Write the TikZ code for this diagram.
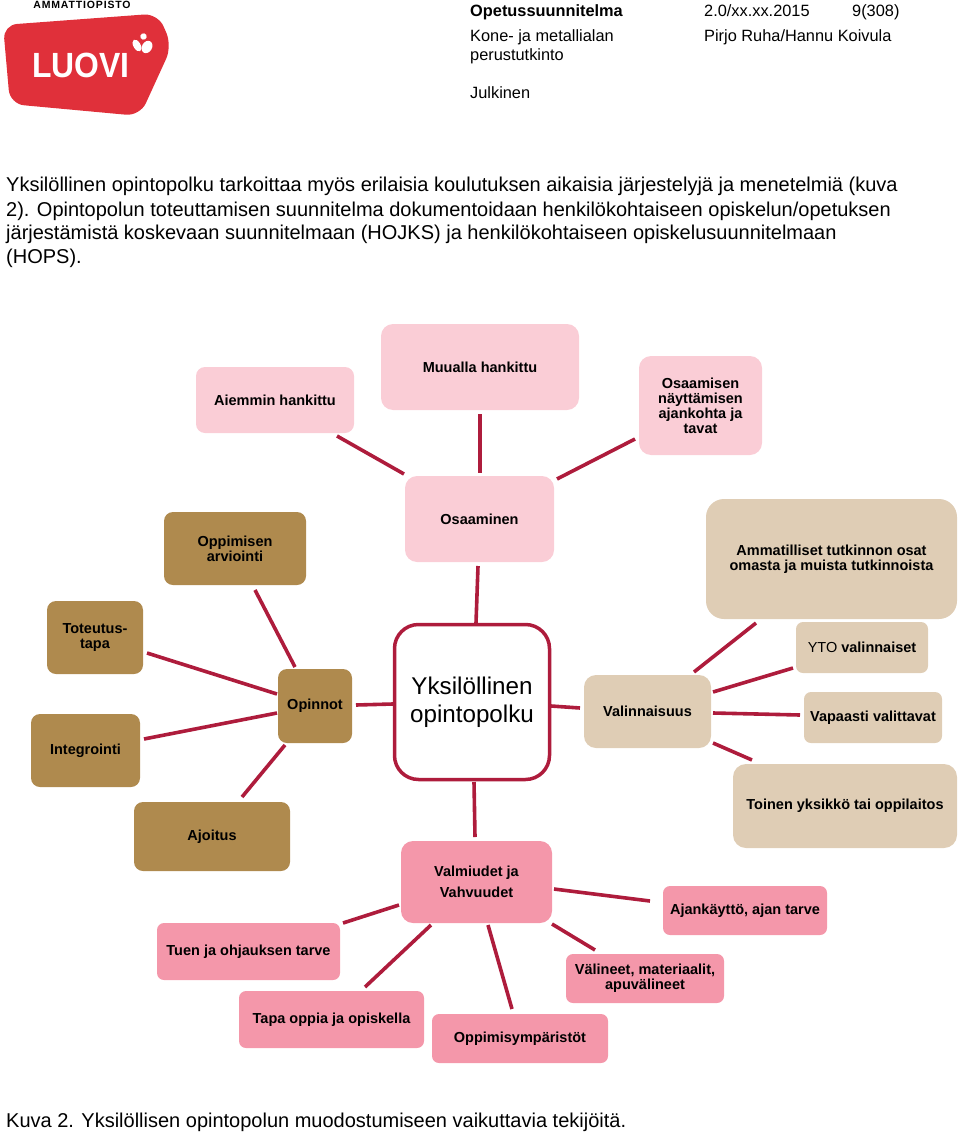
\documentclass[tikz,border=0pt]{standalone}
\usepackage{fontspec}
\setmainfont{Liberation Sans}
\definecolor{lpink}{HTML}{FACDD6}
\definecolor{brownb}{HTML}{AF8A4E}
\definecolor{tanb}{HTML}{DFCDB5}
\definecolor{dpink}{HTML}{F497AA}
\definecolor{crim}{HTML}{AE1C3C}
\definecolor{logored}{HTML}{E0303A}
\tikzset{
 nb/.style={rectangle,rounded corners=9pt,inner sep=0pt,align=center,text=black,
   font=\fontsize{14.5}{15}\selectfont\bfseries},
 lp/.style={nb,fill=lpink},
 br/.style={nb,fill=brownb},
 tn/.style={nb,fill=tanb},
 dp/.style={nb,fill=dpink},
 link/.style={draw=crim,line width=3.6pt},
 para/.style={anchor=base west,inner sep=0pt,font=\fontsize{20}{22}\selectfont},
 head/.style={anchor=base west,inner sep=0pt,font=\fontsize{16.35}{18}\selectfont},
}
\begin{document}
\begin{tikzpicture}[x=1pt,y=-1pt]
\useasboundingbox (0,0) rectangle (960,1134);
% logo
\fill[logored,rounded corners=14pt] (3,25) -- (158,13.5) -- (172,46) -- (140,116) -- (10,104) -- cycle;
\node[anchor=base,inner sep=0pt,font=\fontsize{10.5}{12}\selectfont\bfseries\addfontfeature{LetterSpace=8}] (ammatti) at (82,9) {AMMATTIOPISTO};
\node[anchor=base west,inner sep=0pt,text=white,font=\fontsize{35}{36}\selectfont\bfseries] (luovi) at (32,78) {\scalebox{.91}[1]{LUOVI}};
\fill[white,rotate around={30:(137,45.5)}] (137,45.5) ellipse (3.6pt and 6.5pt);
\fill[white,rotate around={-30:(147,47)}] (147,47) ellipse (5pt and 6.5pt);
\fill[white,rotate around={30:(143.5,36.5)}] (143.5,36.5) ellipse (3.2pt and 3.2pt);
% header
\node[head,font=\fontsize{16.35}{18}\selectfont\bfseries] (h1) at (470,17) {Opetussuunnitelma};
\node[head] (h2) at (704,17) {2.0/xx.xx.2015};
\node[head] (h3) at (852,17) {9(308)};
\node[head] (h4) at (470,42) {Kone- ja metallialan};
\node[head] (h5) at (704,42) {Pirjo Ruha/Hannu Koivula};
\node[head] (h6) at (470,61) {perustutkinto};
\node[head] (h7) at (470,99) {Julkinen};
% paragraph
\node[para] (p1) at (6,192) {Yksilöllinen opintopolku tarkoittaa myös erilaisia koulutuksen aikaisia järjestelyjä ja menetelmiä (kuva};
\node[para] (p2) at (6,216) {2). Opintopolun toteuttamisen suunnitelma dokumentoidaan henkilökohtaiseen opiskelun/opetuksen};
\node[para] (p3) at (6,239) {järjestämistä koskevaan suunnitelmaan (HOJKS) ja henkilökohtaiseen opiskelusuunnitelmaan};
\node[para] (p4) at (6,263) {(HOPS).};
\node[para] (cap) at (6,1127) {Kuva 2. Yksilöllisen opintopolun muodostumiseen vaikuttavia tekijöitä.};
% nodes
\node[lp,minimum width=158pt,minimum height=66pt] (aie) at (275,400) {Aiemmin hankittu};
\node[lp,minimum width=198pt,minimum height=86pt,rounded corners=12pt] (muu) at (480,367) {Muualla hankittu};
\node[lp,minimum width=123pt,minimum height=99pt,rounded corners=12pt] (nay) at (700.5,405.5) {Osaamisen\\näyttämisen\\ajankohta ja\\tavat};
\node[lp,minimum width=149pt,minimum height=86pt,rounded corners=12pt] (osa) at (479.5,519) {Osaaminen};
\node[br,minimum width=142pt,minimum height=73pt] (opa) at (235,548.5) {Oppimisen\\arviointi};
\node[tn,minimum width=251pt,minimum height=120pt,rounded corners=18pt] (amm) at (831.5,559) {Ammatilliset tutkinnon osat\\omasta ja muista tutkinnoista};
\node[br,minimum width=96pt,minimum height=73pt] (tot) at (95,637.5) {Toteutus-\\tapa};
\node[br,minimum width=109pt,minimum height=73pt] (int) at (85.5,750.5) {Integrointi};
\node[br,minimum width=74pt,minimum height=74pt] (opi) at (315,706) {Opinnot};
\node[draw=crim,line width=3.5pt,fill=white,rectangle,rounded corners=24pt,minimum width=155pt,minimum height=155pt,inner sep=0pt,align=center,font=\fontsize{24.2}{27.5}\selectfont] (yks) at (472,702) {\raisebox{-3pt}{Yksilöllinen}\\\raisebox{-3pt}{opintopolku}};
\node[tn,minimum width=127pt,minimum height=73pt,rounded corners=12pt] (val) at (647.5,711.5) {Valinnaisuus};
\node[tn,minimum width=132pt,minimum height=51pt,rounded corners=7pt] (yto) at (862,647.5) {{\mdseries YTO} valinnaiset};
\node[tn,minimum width=138pt,minimum height=51pt,rounded corners=7pt] (vap) at (873,717.5) {Vapaasti valittavat};
\node[tn,minimum width=224pt,minimum height=84pt,rounded corners=13pt] (toi) at (845,806) {Toinen yksikkö tai oppilaitos};
\node[br,minimum width=156pt,minimum height=69pt] (ajo) at (212,836.5) {Ajoitus};
\node[dp,minimum width=151pt,minimum height=82pt,rounded corners=12pt,font=\fontsize{14.5}{21}\selectfont\bfseries] (vlm) at (476.5,882) {Valmiudet ja\\Vahvuudet};
\node[dp,minimum width=164pt,minimum height=49pt,rounded corners=7pt] (ajk) at (745,910.5) {Ajankäyttö, ajan tarve};
\node[dp,minimum width=183pt,minimum height=57pt,rounded corners=7pt] (tue) at (248.5,951.5) {Tuen ja ohjauksen tarve};
\node[dp,minimum width=158pt,minimum height=49pt,rounded corners=7pt] (vli) at (645,978.5) {Välineet, materiaalit,\\apuvälineet};
\node[dp,minimum width=185pt,minimum height=57pt,rounded corners=7pt] (tpa) at (331.5,1019.5) {Tapa oppia ja opiskella};
\node[dp,minimum width=176pt,minimum height=49pt,rounded corners=7pt] (ops) at (520,1038.5) {Oppimisympäristöt};
% connectors
\draw[link] ([shift={(62,36)}]aie.center) -- ([shift={(-75.5,-45)}]osa.center);
\draw[link] ([shift={(0,47)}]muu.center) -- ([shift={(0.5,-46)}]osa.center);
\draw[link] ([shift={(-65.5,33.5)}]nay.center) -- ([shift={(77.5,-40)}]osa.center);
\draw[link] ([shift={(-1.5,47)}]osa.center) -- ([shift={(4,-79)}]yks.center);
\draw[link] ([shift={(20,41.5)}]opa.center) -- ([shift={(-20,-39)}]opi.center);
\draw[link] ([shift={(52,15.5)}]tot.center) -- ([shift={(-38,-12)}]opi.center);
\draw[link] ([shift={(58.5,-11.5)}]int.center) -- ([shift={(-38,7)}]opi.center);
\draw[link] ([shift={(30,-39.5)}]ajo.center) -- ([shift={(-30,39)}]opi.center);
\draw[link] ([shift={(41,-1)}]opi.center) -- ([shift={(-79,2)}]yks.center);
\draw[link] ([shift={(79,4)}]yks.center) -- ([shift={(-67.5,-3.5)}]val.center);
\draw[link] ([shift={(46.5,-39.5)}]val.center) -- ([shift={(-75.5,64)}]amm.center);
\draw[link] ([shift={(65.5,-19.5)}]val.center) -- ([shift={(-69,20.5)}]yto.center);
\draw[link] ([shift={(65.5,1.5)}]val.center) -- ([shift={(-73,-2.5)}]vap.center);
\draw[link] ([shift={(65.5,31.5)}]val.center) -- ([shift={(-93,-46)}]toi.center);
\draw[link] ([shift={(2,80)}]yks.center) -- ([shift={(-1.5,-45)}]vlm.center);
\draw[link] ([shift={(77.5,7)}]vlm.center) -- ([shift={(-95,-9.5)}]ajk.center);
\draw[link] ([shift={(-77.5,23)}]vlm.center) -- ([shift={(94.5,-28.5)}]tue.center);
\draw[link] ([shift={(-45.5,43)}]vlm.center) -- ([shift={(33.5,-32.5)}]tpa.center);
\draw[link] ([shift={(11.5,43)}]vlm.center) -- ([shift={(-8,-29.5)}]ops.center);
\draw[link] ([shift={(75.5,42)}]vlm.center) -- ([shift={(-50,-28.5)}]vli.center);
\end{tikzpicture}
\end{document}
